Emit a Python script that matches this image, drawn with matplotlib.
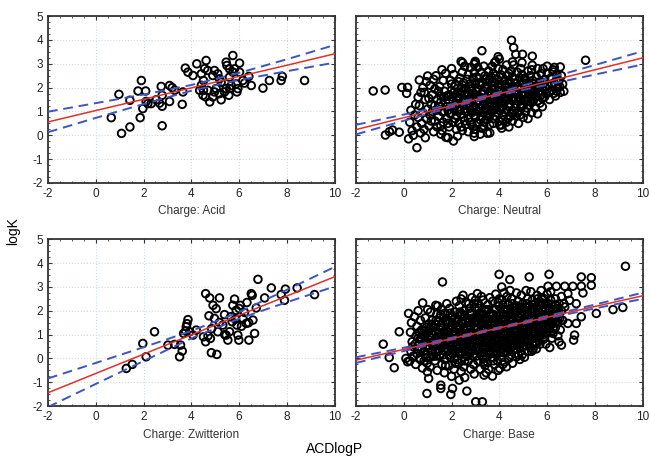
import numpy as np
import matplotlib.pyplot as plt
from matplotlib.ticker import MultipleLocator

plt.rcParams['font.family'] = ['Liberation Sans', 'DejaVu Sans']
plt.rcParams['axes.unicode_minus'] = False

# Panel titles
titles = ['Charge: Acid', 'Charge: Neutral', 'Charge: Zwitterion', 'Charge: Base']

# x positions where the fit line and confidence band are read
band_x = [-2, 0, 2, 4, 6, 8, 10]

# Acid
acid_pts = [
    (0.65, 0.74), (0.97, 1.72), (1.08, 0.08), (1.43, 0.35), (1.43, 1.47), (1.77, 1.86),
    (1.91, 2.30), (1.86, 0.74), (1.97, 1.12), (2.09, 1.86), (2.11, 1.42), (2.18, 1.33),
    (2.32, 1.33), (2.53, 1.49), (2.74, 2.05), (2.78, 1.68), (2.78, 1.22), (2.78, 0.40),
    (2.67, 1.35), (3.09, 1.42), (3.09, 2.09), (3.20, 2.00), (3.30, 1.89), (3.62, 1.30),
    (3.65, 1.82), (3.75, 2.82), (3.86, 2.65), (4.07, 2.51), (4.23, 3.00), (4.42, 2.58),
    (4.51, 2.30), (4.42, 2.10), (4.49, 1.68), (4.56, 2.80), (4.62, 3.14), (4.69, 2.72),
    (4.51, 1.89), (4.60, 1.61), (4.77, 1.40), (4.90, 2.51), (4.97, 2.72), (4.90, 1.61),
    (5.04, 1.96), (5.11, 2.58), (5.18, 1.75), (5.25, 1.49), (5.25, 2.23), (5.46, 3.07),
    (5.49, 2.93), (5.60, 2.79), (5.60, 2.44), (5.60, 1.96), (5.57, 1.68), (5.74, 3.35),
    (5.81, 2.79), (5.88, 2.16), (5.91, 1.82), (5.95, 1.96), (6.02, 3.03), (6.02, 2.65),
    (6.16, 2.30), (6.23, 2.19), (6.41, 2.47), (6.51, 2.09), (7.00, 1.98), (7.27, 2.30),
    (7.76, 2.30), (7.81, 2.47), (8.74, 2.30), (4.35, 1.89), (4.69, 1.89), (5.39, 1.82),
    (5.67, 2.09), (5.74, 2.65), (5.18, 2.37), (4.97, 1.82), (5.46, 1.96),
]
acid_fit = [0.56, 1.04, 1.51, 1.99, 2.47, 2.94, 3.42]
acid_upper = [0.99, 1.35, 1.71, 2.11, 2.62, 3.19, 3.79]
acid_lower = [0.13, 0.73, 1.31, 1.87, 2.32, 2.69, 3.05]

# Neutral
neutral_pts = [
    (0.25, 0.55), (0.35, 0.2), (0.45, 0.85), (0.3, 1.05), (0.55, 0.35), (0.5, 1.3), (0.4, 0.0),
    (0.6, 0.75), (0.2, -0.15), (0.6, 1.6),
    (0.7, 0.1), (0.75, 0.5), (0.8, 0.95), (0.65, 1.25), (0.9, 1.5), (0.85, 0.25), (0.95, 0.7),
    (0.72, 1.8), (1.0, 1.1), (0.9, -0.1), (0.8, 2.0), (0.95, 2.25),
    (1.05, 0.4), (1.1, 0.85), (1.15, 1.3), (1.2, 1.7), (1.1, 2.1), (1.25, 0.15), (1.3, 0.6),
    (1.35, 1.05), (1.4, 1.5), (1.3, 1.95), (1.25, 2.35), (1.4, 0.35), (1.2, 1.0), (1.05, 1.55),
    (1.35, 2.5),
    (1.45, 0.8), (1.5, 1.2), (1.55, 1.65), (1.5, 2.05), (1.6, 0.2), (1.65, 0.55), (1.7, 1.0),
    (1.75, 1.4), (1.7, 1.85), (1.65, 2.3), (1.8, 0.7), (1.8, 1.2), (1.75, 2.6), (1.55, 0.05),
    (1.6, 2.75), (1.8, 1.65),
    (1.9, 0.35), (1.95, 0.9), (1.9, 1.45), (2.0, 1.9), (1.95, 2.3), (2.05, 0.55), (2.1, 1.1),
    (2.05, 1.6), (2.15, 2.1), (2.1, 2.55), (2.2, 0.25), (2.2, 0.85), (2.2, 1.35), (2.25, 1.8),
    (2.0, 2.8), (1.85, -0.1),
    (2.3, 0.5), (2.35, 1.05), (2.3, 1.55), (2.4, 2.0), (2.35, 2.4), (2.45, 0.2), (2.5, 0.75),
    (2.5, 1.25), (2.55, 1.7), (2.5, 2.2), (2.45, 2.65), (2.6, 0.45), (2.6, 1.0), (2.6, 1.5),
    (2.6, 1.95), (2.55, 2.9), (2.4, 3.1),
    (2.7, 0.15), (2.7, 0.7), (2.75, 1.2), (2.7, 1.7), (2.75, 2.15), (2.7, 2.55), (2.85, 0.45),
    (2.85, 0.95), (2.9, 1.45), (2.85, 1.95), (2.9, 2.4), (2.8, 2.85), (3.0, 0.25), (3.0, 0.75),
    (2.95, 1.2), (3.0, 1.7), (3.0, 2.2), (2.95, 2.65), (3.0, 3.05), (2.95, -0.05),
    (3.1, 0.5), (3.1, 1.0), (3.15, 1.45), (3.1, 1.95), (3.15, 2.4), (3.1, 2.85), (3.25, 0.3),
    (3.25, 0.8), (3.3, 1.25), (3.25, 1.75), (3.3, 2.2), (3.25, 2.65), (3.35, 0.55), (3.4, 1.05),
    (3.4, 1.55), (3.4, 2.0), (3.4, 2.5), (3.35, 2.9), (3.2, 0.05),
    (3.5, 0.8), (3.5, 1.3), (3.55, 1.75), (3.5, 2.25), (3.55, 2.7), (3.6, 0.45), (3.65, 1.0),
    (3.65, 1.5), (3.7, 1.95), (3.65, 2.45), (3.7, 2.9), (3.75, 0.7), (3.8, 1.2), (3.8, 1.7),
    (3.8, 2.2), (3.75, 2.6), (3.6, 0.1), (3.8, 3.05),
    (3.9, 0.95), (3.9, 1.45), (3.95, 1.9), (3.9, 2.35), (3.95, 2.8), (4.0, 0.6), (4.05, 1.15),
    (4.05, 1.65), (4.1, 2.1), (4.05, 2.55), (4.0, 3.2), (4.15, 0.85), (4.2, 1.35), (4.2, 1.85),
    (4.2, 2.3), (4.15, 2.75), (3.95, 3.3), (4.1, 0.3),
    (4.3, 0.55), (4.3, 1.05), (4.35, 1.55), (4.3, 2.05), (4.35, 2.5), (4.3, 2.95), (4.45, 0.8),
    (4.45, 1.3), (4.5, 1.8), (4.45, 2.25), (4.5, 2.7), (4.55, 1.05), (4.6, 1.55), (4.6, 2.0),
    (4.55, 2.45), (4.6, 2.95), (4.4, 0.35), (4.55, 0.6),
    (4.7, 0.8), (4.7, 1.3), (4.75, 1.75), (4.7, 2.2), (4.75, 2.65), (4.85, 1.0), (4.85, 1.5),
    (4.9, 1.95), (4.85, 2.4), (4.9, 2.8), (5.0, 0.75), (5.0, 1.25), (5.0, 1.7), (5.0, 2.15),
    (4.95, 2.55), (4.8, 0.5), (4.95, 3.05),
    (5.1, 1.0), (5.1, 1.5), (5.15, 1.9), (5.1, 2.35), (5.2, 2.7), (5.25, 1.25), (5.25, 1.7),
    (5.3, 2.1), (5.3, 2.5), (5.35, 0.95), (5.4, 1.5), (5.4, 1.9), (5.4, 2.3), (5.2, 0.7),
    (5.35, 2.75),
    (5.5, 1.15), (5.55, 1.65), (5.5, 2.05), (5.55, 2.45), (5.6, 2.8), (5.7, 1.35), (5.65, 1.85),
    (5.7, 2.25), (5.75, 2.6), (5.8, 1.55), (5.8, 2.0), (5.6, 0.9),
    (5.9, 2.35), (5.95, 1.75), (6.0, 2.6), (6.05, 2.1), (6.1, 1.5), (6.15, 2.4), (6.2, 1.9),
    (6.25, 2.75), (6.3, 2.2), (6.35, 1.65), (6.4, 2.55), (6.45, 2.0), (6.5, 2.3), (6.55, 1.8),
    (6.6, 2.5), (6.65, 2.15), (6.7, 1.85), (6.0, 2.9), (6.3, 2.85),
    (-1.28, 1.86), (-0.78, 1.9), (-0.08, 2.01), (0.16, 2.01), (0.12, 1.76), (0.55, -0.52),
    (-0.77, 0.01), (-0.47, 0.22), (-0.19, 0.13), (-0.6, 0.15), (0.65, 2.32), (1.0, 2.49),
    (0.86, 1.8), (1.76, -0.08), (2.08, -0.24), (2.25, -0.03), (2.46, 3.04), (2.95, 2.99),
    (2.99, 3.1), (3.27, 3.55), (3.5, 0.09), (2.95, 0.09), (4.01, 0.43), (3.85, 3.1),
    (4.51, 3.99), (4.6, 3.68), (4.69, 3.4), (4.97, 3.4), (4.55, 3.08), (5.38, 3.32),
    (5.38, 2.94), (5.83, 2.8), (6.55, 2.87), (6.25, 2.66), (6.39, 2.31), (6.53, 2.04),
    (6.28, 1.76), (5.8, 1.2), (7.61, 3.15), (4.09, 0.43), (4.37, 0.71), (4.86, 0.85),
    (5.41, 1.41), (5.9, 1.62),
    # denser core
    (1.15, 0.6), (1.3, 1.25), (1.45, 1.85), (1.55, 0.4), (1.6, 1.0), (1.85, 0.5), (1.85, 1.05),
    (1.9, 1.7), (2.0, 2.15), (2.15, 0.7), (2.15, 1.25), (2.25, 1.6), (2.3, 2.25), (2.4, 0.35),
    (2.4, 0.9), (2.45, 1.4), (2.45, 1.85), (2.55, 0.6), (2.65, 1.25), (2.65, 1.75), (2.65, 2.35),
    (2.8, 0.55), (2.8, 1.05), (2.8, 1.6), (2.8, 2.05), (2.9, 0.35), (2.95, 0.85), (3.05, 1.35),
    (3.05, 1.85), (3.05, 2.45), (3.2, 0.65), (3.2, 1.15), (3.2, 1.6), (3.2, 2.1), (3.35, 0.4),
    (3.35, 1.35), (3.35, 1.85), (3.45, 0.65), (3.45, 1.15), (3.45, 2.35), (3.6, 0.85), (3.6, 1.35),
    (3.6, 1.85), (3.6, 2.35), (3.75, 0.5), (3.75, 1.05), (3.75, 1.55), (3.75, 2.05), (3.85, 0.8),
    (3.85, 1.35), (3.85, 2.5), (4.0, 1.05), (4.0, 1.5), (4.0, 2.0), (4.0, 2.45), (4.15, 0.65),
    (4.15, 1.2), (4.15, 1.7), (4.25, 2.15), (4.25, 0.95), (4.4, 1.2), (4.4, 1.7), (4.4, 2.15),
    (4.4, 2.6), (4.5, 0.95), (4.55, 1.45), (4.65, 1.15), (4.65, 1.85), (4.65, 2.35), (4.75, 0.95),
    (4.8, 1.6), (4.8, 2.05), (4.9, 1.2), (4.95, 1.8), (5.05, 2.4), (5.05, 1.45), (5.15, 1.15),
    (5.2, 1.6), (5.2, 2.1), (5.3, 1.4), (5.3, 1.85), (5.45, 1.7), (5.45, 2.15), (5.6, 1.45),
    (5.6, 2.0), (5.75, 1.7), (5.85, 2.2), (6.0, 1.95), (6.2, 2.15), (6.4, 1.85),
    (1.55, 1.4), (1.7, 1.6), (1.95, 1.2), (2.1, 1.8), (2.25, 1.05), (2.35, 1.75), (2.55, 1.1),
    (2.55, 1.95), (2.7, 1.45), (2.75, 1.95), (2.9, 1.15), (2.9, 1.75), (3.05, 1.6), (3.15, 2.2),
    (3.3, 1.0), (3.3, 1.55), (3.5, 1.05), (3.5, 1.55), (3.5, 2.0), (3.7, 1.25), (3.7, 1.75),
    (3.7, 2.25), (3.9, 1.2), (3.9, 1.7), (4.1, 1.4), (4.1, 1.9), (4.25, 1.55), (4.35, 1.8),
    (4.5, 1.5), (4.55, 2.05), (4.7, 1.55), (4.75, 2.0), (4.9, 1.45), (5.1, 1.75), (5.15, 2.2),
    (5.35, 1.6), (5.5, 1.85), (5.7, 2.05), (5.9, 2.05), (6.1, 1.8),
]
neutral_fit = [0.24, 0.74, 1.24, 1.75, 2.25, 2.75, 3.25]
neutral_upper = [0.44, 0.87, 1.30, 1.81, 2.38, 2.95, 3.53]
neutral_lower = [0.04, 0.61, 1.18, 1.69, 2.12, 2.55, 2.97]

# Zwitterion
zwit_pts = [
    (1.28, -0.42), (1.53, -0.25), (1.97, 0.63), (2.11, 0.07), (2.46, 1.12), (3.02, 0.56),
    (3.30, 0.59), (3.51, 0.07), (3.55, 0.56), (3.62, 0.31), (3.68, 1.05), (3.76, 1.15),
    (3.79, 1.33), (3.86, 1.63), (3.82, 1.46), (3.93, 1.12), (4.07, 0.98), (4.21, 1.19),
    (4.51, 0.91), (4.60, 0.70), (4.60, 2.72), (4.77, 2.54), (4.74, 1.79), (4.80, 0.84),
    (4.84, 0.24), (5.07, 0.17), (4.91, 2.23), (5.04, 2.09), (5.18, 2.54), (4.97, 1.68),
    (5.11, 1.12), (5.18, 1.51), (5.32, 1.40), (5.39, 1.84), (5.46, 0.98), (5.53, 0.77),
    (5.60, 1.12), (5.71, 1.54), (5.74, 2.23), (5.81, 2.49), (5.88, 2.02), (5.91, 1.40),
    (5.95, 0.98), (5.99, 0.77), (6.05, 2.23), (6.16, 1.68), (6.23, 1.93), (6.30, 1.47),
    (6.33, 2.35), (6.41, 0.77), (6.51, 2.72), (6.55, 2.65), (6.58, 1.61), (6.65, 1.05),
    (6.72, 2.12), (6.79, 3.32), (7.07, 2.54), (7.35, 2.96), (7.76, 2.68), (7.90, 2.44),
    (7.94, 2.91), (8.43, 2.96), (9.16, 2.68), (5.65, 1.75), (5.85, 1.65), (6.10, 1.35),
    (5.40, 1.00), (4.70, 0.95), (4.85, 1.25), (6.40, 1.50), (6.00, 2.10),
]
zwit_fit = [-1.44, -0.63, 0.18, 0.99, 1.81, 2.62, 3.43]
zwit_upper = [-0.84, -0.19, 0.47, 1.15, 1.95, 2.88, 3.84]
zwit_lower = [-2.04, -1.07, -0.11, 0.84, 1.67, 2.36, 3.02]

# Base
base_pts = [
    (0.25, -0.1), (0.3, 0.3), (0.35, 0.7), (0.28, 1.1), (0.32, 1.5), (0.4, 0.1), (0.38, 0.5),
    (0.5, -0.25), (0.55, 0.2), (0.48, 0.6), (0.52, 0.95), (0.55, 1.35), (0.45, 1.75), (0.6, 2.0),
    (0.58, 0.4),
    (0.7, -0.05), (0.72, 0.35), (0.68, 0.8), (0.75, 1.2), (0.7, 1.6), (0.78, -0.4), (0.8, 0.6),
    (0.82, 1.0),
    (0.9, 0.15), (0.92, 0.5), (0.88, 0.9), (0.95, 1.3), (0.9, 1.7), (0.98, -0.2), (1.0, 2.05),
    (0.95, 0.7),
    (1.1, -0.35), (1.12, 0.05), (1.08, 0.45), (1.15, 0.85), (1.1, 1.25), (1.18, 1.6), (1.12, 1.95),
    (1.2, 0.3), (1.2, 1.05),
    (1.3, -0.1), (1.32, 0.3), (1.28, 0.7), (1.35, 1.1), (1.3, 1.45), (1.38, 1.85), (1.4, -0.5),
    (1.4, 0.55), (1.42, 2.2),
    (1.5, 0.1), (1.52, 0.5), (1.48, 0.9), (1.55, 1.3), (1.5, 1.7), (1.58, 2.05), (1.6, -0.25),
    (1.6, 0.75), (1.62, 1.5),
    (1.7, -0.6), (1.72, -0.05), (1.68, 0.35), (1.75, 0.7), (1.7, 1.1), (1.78, 1.5), (1.72, 1.9),
    (1.8, 2.3), (1.82, 0.95),
    (1.9, -0.3), (1.92, 0.15), (1.88, 0.55), (1.95, 0.9), (1.9, 1.3), (1.98, 1.7), (1.92, 2.1),
    (2.0, -0.75), (2.0, 0.4), (2.02, 1.5),
    (2.1, -0.45), (2.12, 0.0), (2.08, 0.4), (2.15, 0.8), (2.1, 1.15), (2.18, 1.55), (2.12, 1.95),
    (2.2, 2.4), (2.22, 0.6), (2.2, 1.35),
    (2.3, -0.2), (2.32, 0.2), (2.28, 0.6), (2.35, 1.0), (2.3, 1.4), (2.38, 1.8), (2.32, 2.2),
    (2.4, -0.55), (2.42, 0.85), (2.4, 2.5),
    (2.5, -0.35), (2.52, 0.05), (2.48, 0.45), (2.55, 0.85), (2.5, 1.25), (2.58, 1.6), (2.52, 2.0),
    (2.6, 2.35), (2.62, 0.65), (2.6, 1.05), (2.55, -0.8),
    (2.7, -0.1), (2.72, 0.3), (2.68, 0.7), (2.75, 1.1), (2.7, 1.5), (2.78, 1.9), (2.72, 2.3),
    (2.8, -0.45), (2.82, 0.5), (2.8, 1.3), (2.85, 2.55),
    (2.9, 0.1), (2.92, 0.5), (2.88, 0.9), (2.95, 1.3), (2.9, 1.7), (2.98, 2.1), (2.92, -0.25),
    (3.0, 0.75), (3.02, 1.5), (3.0, 2.45), (2.95, -0.65),
    (3.1, -0.1), (3.12, 0.3), (3.08, 0.7), (3.15, 1.1), (3.1, 1.5), (3.18, 1.9), (3.12, 2.3),
    (3.2, -0.45), (3.22, 0.95), (3.2, 1.7), (3.25, 2.6),
    (3.3, 0.05), (3.32, 0.45), (3.28, 0.85), (3.35, 1.25), (3.3, 1.65), (3.38, 2.05), (3.32, 2.45),
    (3.4, -0.3), (3.42, 0.65), (3.4, 1.45), (3.45, -0.6),
    (3.5, -0.15), (3.52, 0.25), (3.48, 0.65), (3.55, 1.05), (3.5, 1.45), (3.58, 1.85), (3.52, 2.25),
    (3.6, 0.45), (3.62, 1.2), (3.6, 2.55), (3.55, -0.45),
    (3.7, 0.05), (3.72, 0.45), (3.68, 0.85), (3.75, 1.25), (3.7, 1.65), (3.78, 2.05), (3.72, 2.4),
    (3.8, -0.25), (3.82, 0.7), (3.8, 1.5), (3.85, 2.7),
    (3.9, 0.2), (3.92, 0.6), (3.88, 1.0), (3.95, 1.4), (3.9, 1.8), (3.98, 2.2), (3.92, -0.1),
    (4.0, 0.4), (4.02, 1.2), (4.0, 2.5), (3.95, -0.5),
    (4.1, 0.05), (4.12, 0.45), (4.08, 0.85), (4.15, 1.25), (4.1, 1.65), (4.18, 2.05), (4.12, 2.45),
    (4.2, 0.65), (4.22, 1.45), (4.2, 2.75), (4.15, -0.25),
    (4.3, 0.25), (4.32, 0.65), (4.28, 1.05), (4.35, 1.45), (4.3, 1.85), (4.38, 2.25), (4.32, 2.6),
    (4.4, 0.0), (4.42, 0.9), (4.4, 1.65), (4.45, 2.85),
    (4.5, 0.15), (4.52, 0.55), (4.48, 0.95), (4.55, 1.35), (4.5, 1.75), (4.58, 2.15), (4.52, 2.5),
    (4.6, 0.35), (4.62, 1.15), (4.6, 1.95), (4.55, -0.2),
    (4.7, 0.4), (4.72, 0.8), (4.68, 1.2), (4.75, 1.6), (4.7, 2.0), (4.78, 2.4), (4.72, 2.75),
    (4.8, 0.15), (4.82, 1.0), (4.8, 1.8), (4.85, 0.6),
    (4.9, 0.3), (4.92, 0.7), (4.88, 1.1), (4.95, 1.5), (4.9, 1.9), (4.98, 2.3), (4.92, 2.65),
    (5.0, 0.5), (5.02, 1.3), (5.0, 2.1), (5.05, 0.05),
    (5.1, 0.55), (5.12, 0.95), (5.08, 1.35), (5.15, 1.75), (5.1, 2.15), (5.18, 2.5), (5.12, 2.85),
    (5.2, 0.3), (5.22, 1.15), (5.2, 1.95), (5.25, 0.75),
    (5.3, 0.45), (5.32, 0.85), (5.28, 1.25), (5.35, 1.65), (5.3, 2.05), (5.38, 2.45), (5.32, 2.8),
    (5.4, 0.65), (5.42, 1.45), (5.4, 2.25), (5.45, 1.05),
    (5.5, 0.7), (5.52, 1.1), (5.48, 1.5), (5.55, 1.9), (5.5, 2.3), (5.58, 2.65), (5.6, 0.9),
    (5.62, 1.7), (5.6, 2.5), (5.55, 0.4), (5.65, 1.3),
    (5.7, 0.6), (5.72, 1.0), (5.68, 1.4), (5.75, 1.8), (5.7, 2.2), (5.78, 2.55), (5.8, 1.2),
    (5.82, 2.0), (5.85, 0.8), (5.8, 1.6), (5.75, 2.85),
    (5.9, 0.9), (5.92, 1.3), (5.88, 1.7), (5.95, 2.1), (5.9, 2.5), (6.0, 1.1), (6.02, 1.9),
    (6.0, 2.7), (5.95, 0.6), (6.05, 1.5),
    (6.1, 1.25), (6.12, 1.65), (6.08, 2.05), (6.15, 2.45), (6.2, 0.85), (6.22, 1.45), (6.2, 2.25),
    (6.25, 1.85), (6.15, 2.8), (6.25, 1.05),
    (6.35, 1.3), (6.32, 1.7), (6.38, 2.1), (6.35, 2.5), (6.45, 0.95), (6.45, 1.5), (6.48, 1.9),
    (6.5, 2.3), (6.55, 1.2), (6.6, 2.0), (6.6, 2.6), (6.65, 1.6), (6.7, 2.3), (6.5, 0.7),
    (-0.86, 0.60), (-0.61, 0.04), (-0.40, -0.39), (-0.19, 1.12), (0.20, 1.89), (1.62, 3.21),
    (0.79, 2.33), (1.34, 2.23), (0.97, -1.47), (1.04, -0.84), (0.99, -0.56), (1.55, -1.12),
    (1.55, -1.26), (2.04, -1.26), (1.97, -1.51), (2.32, -0.91), (2.64, -1.37), (3.01, -1.82),
    (3.29, -1.82), (3.36, -0.70), (3.71, -0.74), (2.48, 2.65), (3.08, 2.72), (3.99, 3.53),
    (4.10, 3.00), (0.79, 0.98), (0.09, 0.00), (0.16, -0.14),
    (9.28, 3.87), (6.08, 3.53), (5.25, 3.42), (4.44, 3.31), (7.43, 3.42), (7.85, 3.39),
    (7.85, 3.07), (7.43, 3.03), (7.08, 3.03), (6.74, 3.03), (6.39, 3.03), (6.04, 3.03),
    (7.50, 2.75), (6.87, 2.72), (6.94, 2.44), (7.22, 2.30), (8.06, 1.89), (8.76, 2.05),
    (9.17, 2.14), (7.43, 1.75), (7.15, 0.98), (7.11, 0.77), (6.60, 0.56), (6.11, 0.46),
    (5.41, 0.38), (4.86, -0.04), (4.72, 0.07), (4.30, -0.35), (4.23, -0.14), (4.02, -0.42),
    (6.74, 2.16), (6.53, 1.68), (6.87, 1.47), (7.22, 1.47),
    # denser core
    (0.6, 0.85), (0.65, 0.0), (0.65, 1.1), (0.85, 0.3), (0.85, 1.15), (0.85, -0.1), (1.0, 0.55),
    (1.05, 0.95), (1.05, 1.45), (1.25, 0.1), (1.25, 0.5), (1.25, 1.3), (1.45, 0.3), (1.45, 0.7),
    (1.45, 1.1), (1.45, 1.55), (1.65, 0.15), (1.65, 0.55), (1.65, 1.3), (1.65, 1.7), (1.85, 0.3),
    (1.85, 0.75), (1.85, 1.1), (1.85, 1.55), (2.05, 0.2), (2.05, 0.6), (2.05, 1.0), (2.05, 1.35),
    (2.05, 1.75), (2.25, 0.4), (2.25, 0.8), (2.25, 1.2), (2.25, 1.6), (2.25, -0.05), (2.45, 0.25),
    (2.45, 0.65), (2.45, 1.05), (2.45, 1.45), (2.45, 1.85), (2.65, 0.1), (2.65, 0.45), (2.65, 0.85),
    (2.65, 1.3), (2.65, 1.7), (2.85, 0.3), (2.85, 0.7), (2.85, 1.1), (2.85, 1.5), (2.85, 1.9),
    (3.05, 0.1), (3.05, 0.5), (3.05, 0.95), (3.05, 1.3), (3.05, 1.75), (3.25, 0.25), (3.25, 0.65),
    (3.25, 1.05), (3.25, 1.45), (3.25, 1.85), (3.45, 0.05), (3.45, 0.45), (3.45, 0.85), (3.45, 1.25),
    (3.45, 1.65), (3.45, 2.05), (3.65, 0.25), (3.65, 0.65), (3.65, 1.05), (3.65, 1.45), (3.65, 1.85),
    (3.85, 0.45), (3.85, 0.85), (3.85, 1.25), (3.85, 1.65), (3.85, 2.05), (4.05, 0.25), (4.05, 0.65),
    (4.05, 1.05), (4.05, 1.45), (4.05, 1.85), (4.25, 0.45), (4.25, 0.85), (4.25, 1.25), (4.25, 1.65),
    (4.25, 2.05), (4.45, 0.35), (4.45, 0.75), (4.45, 1.15), (4.45, 1.55), (4.45, 1.95), (4.65, 0.55),
    (4.65, 0.95), (4.65, 1.4), (4.65, 1.8), (4.65, 2.2), (4.85, 0.45), (4.85, 0.85), (4.85, 1.3),
    (4.85, 1.7), (4.85, 2.1), (5.05, 0.7), (5.05, 1.1), (5.05, 1.55), (5.05, 1.9), (5.25, 0.55),
    (5.25, 0.95), (5.25, 1.4), (5.25, 1.8), (5.25, 2.2), (5.45, 0.85), (5.45, 1.25), (5.45, 1.65),
    (5.45, 2.05), (5.65, 0.75), (5.65, 1.15), (5.65, 1.55), (5.65, 1.95), (5.65, 2.35), (5.85, 1.0),
    (5.85, 1.4), (5.85, 1.8), (5.85, 2.3), (6.05, 1.3), (6.05, 1.7), (6.05, 2.3), (6.25, 1.25),
    (6.25, 1.65), (6.25, 2.05), (6.45, 1.7), (6.45, 2.1),
    (0.75, 0.45), (0.75, 0.85), (0.95, 0.05), (0.95, 1.05), (1.15, 0.65), (1.15, 1.4), (1.35, 0.85),
    (1.35, 0.1), (1.35, 1.6), (1.55, 0.6), (1.55, 1.0), (1.55, 1.85), (1.75, 0.45), (1.75, 1.2),
    (1.75, -0.3), (1.95, 0.05), (1.95, 0.65), (1.95, 1.2), (1.95, 1.9), (2.15, 0.3), (2.15, 1.05),
    (2.15, 1.7), (2.15, -0.2), (2.35, 0.45), (2.35, 0.75), (2.35, 1.25), (2.35, 1.95), (2.55, 0.3),
    (2.55, 1.15), (2.55, 1.8), (2.55, -0.1), (2.75, 0.55), (2.75, 0.9), (2.75, 1.65), (2.75, 2.1),
    (2.95, 0.2), (2.95, 1.05), (2.95, 1.55), (2.95, 2.3), (3.15, 0.45), (3.15, 0.85), (3.15, 1.7),
    (3.15, 2.1), (3.35, 0.25), (3.35, 1.05), (3.35, 1.85), (3.35, -0.15), (3.55, 0.55), (3.55, 0.85),
    (3.55, 1.25), (3.55, 2.05), (3.75, 0.25), (3.75, 1.05), (3.75, 1.85), (3.75, -0.1), (3.95, 0.8),
    (3.95, 1.2), (3.95, 1.6), (3.95, 2.35), (4.15, 0.25), (4.15, 1.05), (4.15, 1.85), (4.15, 2.25),
    (4.35, 0.45), (4.35, 0.85), (4.35, 1.25), (4.35, 2.05), (4.55, 0.75), (4.55, 1.55), (4.55, 1.9),
    (4.55, 2.3), (4.75, 0.6), (4.75, 1.0), (4.75, 1.4), (4.75, 2.2), (4.95, 0.9), (4.95, 1.25),
    (4.95, 2.0), (4.95, 0.15), (5.15, 0.75), (5.15, 1.55), (5.15, 2.3), (5.35, 1.05), (5.35, 1.45),
    (5.35, 1.95), (5.35, 0.3), (5.55, 0.6), (5.55, 1.35), (5.55, 2.15), (5.75, 1.05), (5.75, 1.55),
    (5.75, 2.35), (5.95, 1.5), (5.95, 2.3), (6.15, 1.1), (6.15, 1.85), (6.35, 1.5), (6.35, 2.25),
]
base_fit = [-0.07, 0.38, 0.83, 1.28, 1.73, 2.18, 2.63]
base_upper = [0.05, 0.45, 0.87, 1.31, 1.78, 2.26, 2.76]
base_lower = [-0.19, 0.31, 0.79, 1.25, 1.68, 2.10, 2.50]

panels = [
    (acid_pts, acid_fit, acid_upper, acid_lower),
    (neutral_pts, neutral_fit, neutral_upper, neutral_lower),
    (zwit_pts, zwit_fit, zwit_upper, zwit_lower),
    (base_pts, base_fit, base_upper, base_lower),
]

fig = plt.figure(figsize=(6.5, 4.62), dpi=100)

# axes boxes in figure fractions: left, bottom, width, height
boxes = [
    (0.0738, 0.604, 0.441, 0.361),
    (0.5477, 0.604, 0.441, 0.361),
    (0.0738, 0.121, 0.441, 0.361),
    (0.5477, 0.121, 0.441, 0.361),
]

for i, (pts, fit, up, lo) in enumerate(panels):
    ax = fig.add_axes(boxes[i])
    pts = np.array(pts)
    ax.scatter(pts[:, 0], pts[:, 1], s=30, facecolors='none', edgecolors='black',
               linewidths=1.35, zorder=2)
    ax.plot(band_x, fit, color='#e0302a', lw=1.1, zorder=4)
    ax.plot(band_x, up, color='#3d55c0', lw=1.4, ls=(0, (5, 3)), zorder=3)
    ax.plot(band_x, lo, color='#3d55c0', lw=1.4, ls=(0, (5, 3)), zorder=3)

    ax.set_xlim(-2, 10)
    ax.set_ylim(-2, 5)
    ax.set_xticks(range(-2, 11, 2))
    ax.set_yticks(range(-2, 6))
    ax.xaxis.set_minor_locator(MultipleLocator(0.5))
    ax.yaxis.set_minor_locator(MultipleLocator(0.25))
    ax.tick_params(which='both', direction='in', top=True, right=True, labelsize=8.5,
                   color='#333333', labelcolor='#222222')
    ax.tick_params(which='major', length=3, width=0.8)
    ax.tick_params(which='minor', length=1.5, width=0.6)
    ax.grid(True, which='major', ls=':', color='#cfdbe8', lw=0.8)
    ax.set_axisbelow(True)
    for s in ax.spines.values():
        s.set_linewidth(1.3)
        s.set_color('#333333')
    if i % 2 == 1:
        ax.set_yticklabels([])
    ax.set_xlabel(titles[i], fontsize=8.5, labelpad=4, color='#333333')

fig.text(0.02, 0.5, 'logK', rotation=90, ha='center', va='center', fontsize=10)
fig.text(0.515, 0.012, 'ACDlogP', ha='center', va='bottom', fontsize=10)

fig.savefig('out.png', dpi=100)
